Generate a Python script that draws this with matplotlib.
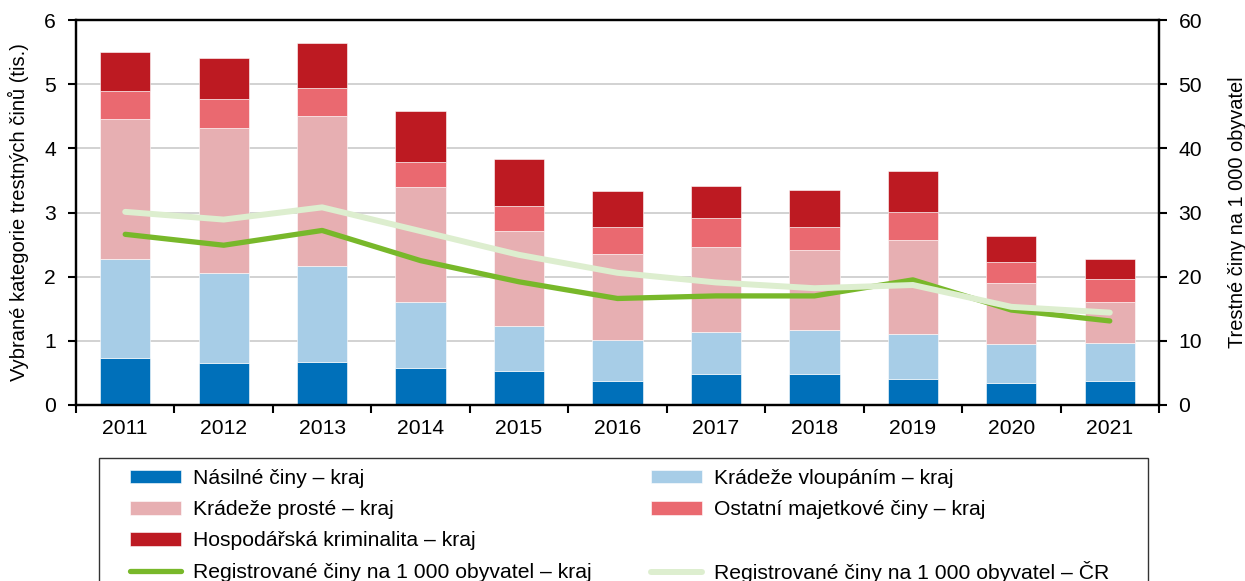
import numpy as np
import matplotlib.pyplot as plt
from matplotlib.patches import Rectangle

plt.rcParams['font.family'] = ['Liberation Sans', 'DejaVu Sans']

years = ['2011', '2012', '2013', '2014', '2015', '2016', '2017', '2018', '2019', '2020', '2021']

# vybrané kategorie trestných činů v kraji (tis.)
nasilne = [0.74, 0.65, 0.665, 0.58, 0.535, 0.38, 0.49, 0.48, 0.405, 0.34, 0.37]
vloupani = [1.54, 1.41, 1.50, 1.03, 0.70, 0.63, 0.65, 0.69, 0.70, 0.615, 0.60]
proste = [2.18, 2.26, 2.34, 1.78, 1.47, 1.34, 1.32, 1.25, 1.46, 0.945, 0.64]
ostatni = [0.43, 0.45, 0.44, 0.40, 0.39, 0.42, 0.45, 0.36, 0.45, 0.33, 0.355]
hospodarska = [0.61, 0.63, 0.70, 0.79, 0.74, 0.56, 0.50, 0.57, 0.63, 0.40, 0.31]

# registrované činy na 1 000 obyvatel
reg_kraj = [26.6, 24.9, 27.2, 22.5, 19.2, 16.6, 17.0, 17.0, 19.5, 14.8, 13.1]
reg_cr = [30.1, 28.9, 30.8, 27.1, 23.4, 20.6, 19.1, 18.2, 18.7, 15.3, 14.4]

series = [
    ('Násilné činy – kraj', nasilne, '#0070BA'),
    ('Krádeže vloupáním – kraj', vloupani, '#A7CDE7'),
    ('Krádeže prosté – kraj', proste, '#E7AFB2'),
    ('Ostatní majetkové činy – kraj', ostatni, '#EA6970'),
    ('Hospodářská kriminalita – kraj', hospodarska, '#BD1A22'),
]

FS = 15.2

fig = plt.figure(figsize=(12.45, 5.81), dpi=100)
ax = fig.add_axes([76 / 1245, 1 - 405 / 581, (1159 - 76) / 1245, (405 - 20) / 581])
x = np.arange(len(years))

bottom = np.zeros(len(years))
handles = {}
for label, vals, color in series:
    h = ax.bar(x, vals, width=0.51, bottom=bottom, color=color, edgecolor='white',
               linewidth=0.4, zorder=2, label=label)
    handles[label] = h
    bottom += np.array(vals)

ax.set_xlim(-0.5, len(years) - 0.5)
ax.set_ylim(0, 6)
ax.set_yticks(range(7))
ax.yaxis.grid(True, color='#CFCFCF', linewidth=1.3, zorder=0)
ax.set_axisbelow(True)

# popisky let uprostřed, čárky na hranicích kategorií
ax.set_xticks(x)
ax.set_xticklabels(years)
ax.set_xticks(np.arange(-0.5, len(years)), minor=True)
ax.tick_params(axis='x', which='major', length=0, pad=10, labelsize=FS)
ax.tick_params(axis='x', which='minor', length=6, width=1.5, direction='out')
ax.tick_params(axis='y', length=6, width=1.5, labelsize=FS, pad=8.5)

for s in ax.spines.values():
    s.set_linewidth(1.6)
    s.set_color('black')

ax.set_ylabel('Vybrané kategorie trestných činů (tis.)', fontsize=14.5)
ax.yaxis.set_label_coords((29 - 76) / 1083, 0.5)

ax2 = ax.twinx()
ax2.set_ylim(0, 60)
ax2.set_yticks(range(0, 61, 10))
ax2.tick_params(axis='y', length=6, width=1.5, labelsize=FS, pad=8)
for s in ax2.spines.values():
    s.set_linewidth(1.6)
ax2.set_ylabel('Trestné činy na 1 000 obyvatel', fontsize=14.4)
ax2.yaxis.set_label_coords((1228 - 76) / 1083, 0.5)

l_kraj, = ax2.plot(x, reg_kraj, color='#78B82A', linewidth=3.8, solid_capstyle='round',
                   label='Registrované činy na 1 000 obyvatel – kraj', zorder=3)
l_cr, = ax2.plot(x, reg_cr, color='#DDEECF', linewidth=4.3, solid_capstyle='round',
                 label='Registrované činy na 1 000 obyvatel – ČR', zorder=4)

# legenda: dva sloupce, plněno po sloupcích
blank = Rectangle((0, 0), 1, 1, visible=False)
leg_handles = [handles[series[0][0]], handles[series[2][0]], handles[series[4][0]], l_kraj,
               handles[series[1][0]], handles[series[3][0]], blank, l_cr]
leg_labels = [series[0][0], series[2][0], series[4][0], l_kraj.get_label(),
              series[1][0], series[3][0], ' ', l_cr.get_label()]
leg = fig.legend(leg_handles, leg_labels, ncol=2, loc='upper left',
                 bbox_to_anchor=(130 / 1245, 1 - 469 / 581), frameon=False,
                 fontsize=FS, handlelength=2.4, handleheight=0.6, handletextpad=0.6,
                 labelspacing=0.58, columnspacing=2.8, borderpad=0, borderaxespad=0)

# "Č" je vyšší než ostatní popisky, takže poslední řádek druhého sloupce by
# sklouzl níž; prázdný řádek nad ním se proto o ten rozdíl zmenší
texts = leg.get_texts()
spacer = texts[6]
for _ in range(3):
    fig.canvas.draw()
    shift = texts[3].get_window_extent().y0 - texts[7].get_window_extent().y0
    hgt = spacer.get_window_extent().height
    if abs(shift) < 0.3 or hgt <= 0:
        break
    spacer.set_fontsize(spacer.get_fontsize() * (hgt - shift) / hgt)

fig.patches.append(Rectangle((99 / 1245, -0.05), (1148 - 99) / 1245, 0.05 + 1 - 458 / 581,
                             transform=fig.transFigure, fill=False, edgecolor='#333333',
                             linewidth=1.0))

fig.savefig('out.png', dpi=100)
